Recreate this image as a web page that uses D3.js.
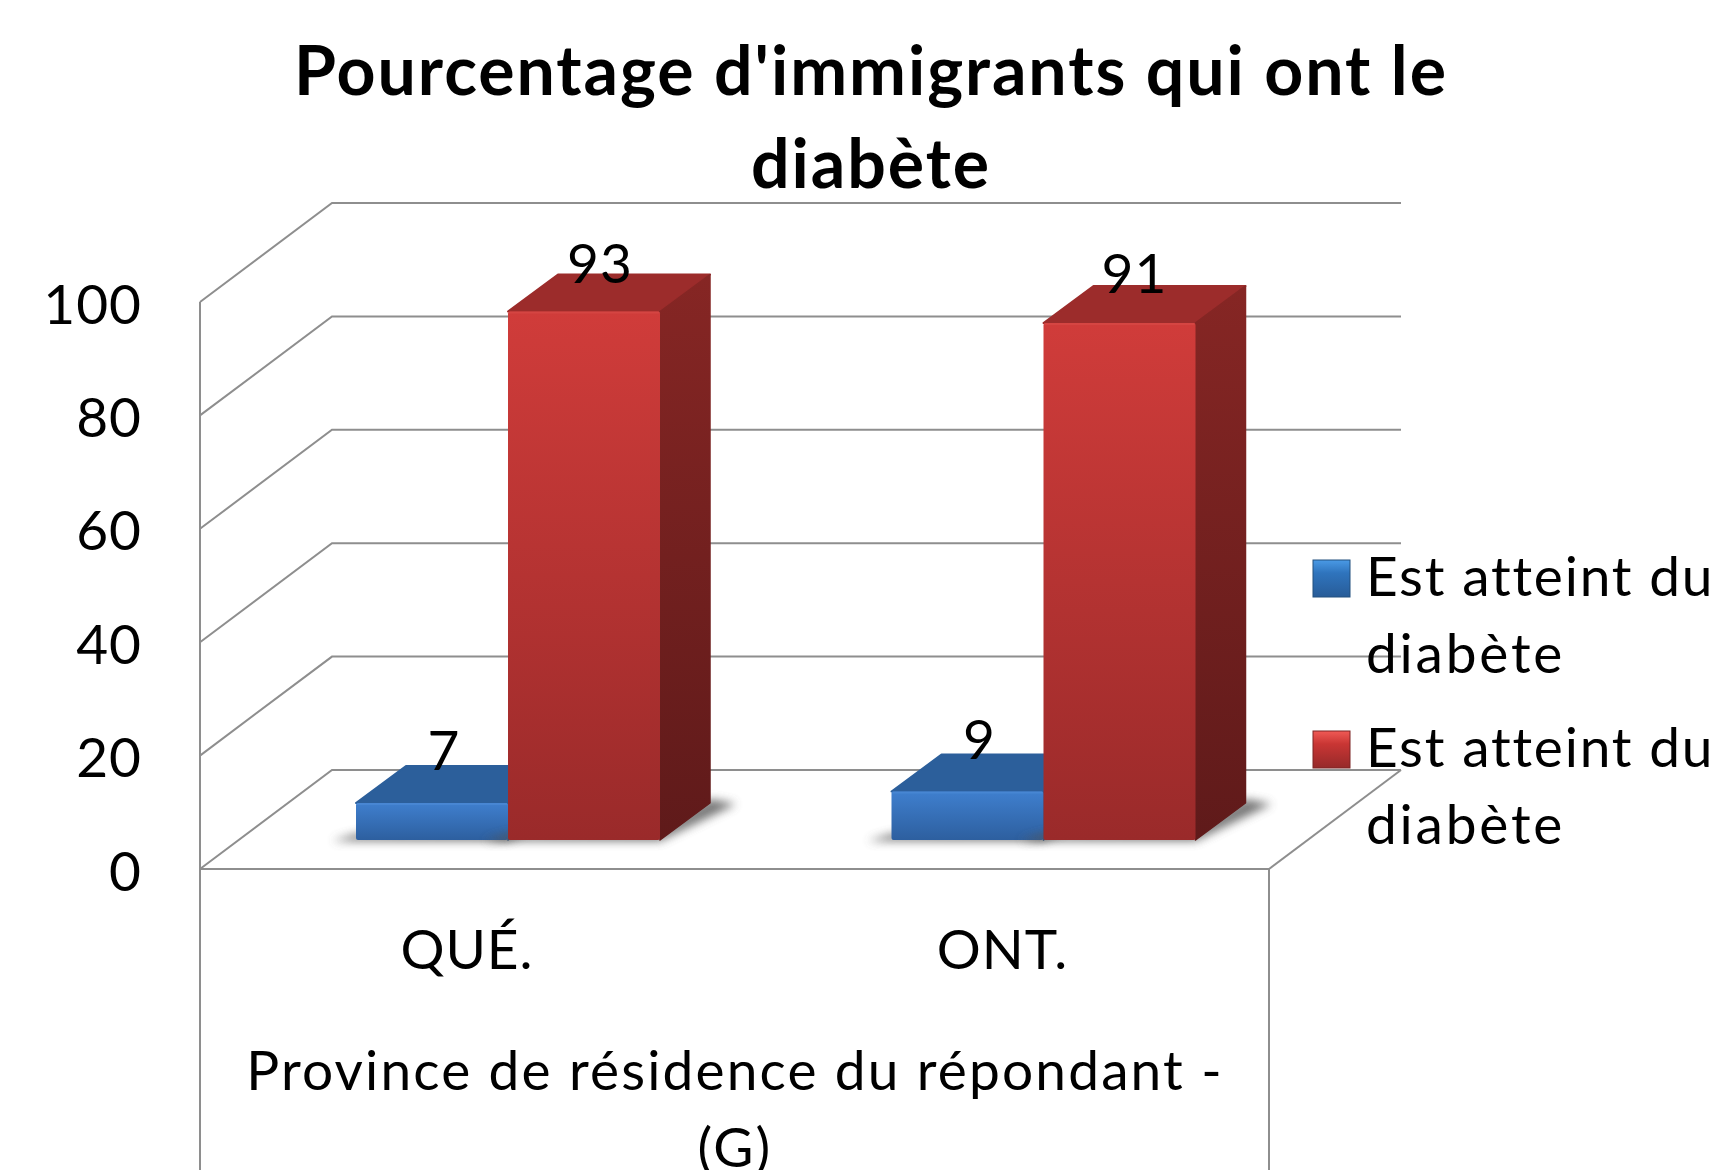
<!DOCTYPE html>
<html><head><meta charset="utf-8">
<script src="https://cdn.jsdelivr.net/npm/d3@7/dist/d3.min.js"></script>
<style>html,body{margin:0;padding:0;background:#fff;overflow:hidden}svg{display:block}text{font-family:Lato,Carlito,Calibri,sans-serif;fill:#000}</style>
</head><body><svg id="c" width="1720" height="1170"></svg>
<script>
const titleLines = ["Pourcentage d'immigrants qui ont le", "diabète"];
const categories = ["QUÉ.", "ONT."];
const seriesNames = ["Est atteint du diabète", "Est atteint du diabète"];
const seriesA = [7, 9];
const seriesB = [93, 91];
const yTicks = [0, 20, 40, 60, 80, 100];
const axisTitleLines = ["Province de résidence du répondant -", "(G)"];

const svg = d3.select("#c");
const W = 1170;
const y = d3.scaleLinear().domain([0, 100]).range([869, 302]);
const x = d3.scaleLinear().domain([0, 1]).range([200, 1269]);
const depth = {dx: 132, dy: -99};
const barDepth = {dx: 50, dy: -37};
const barBase = 840;
const barY = d3.scaleLinear().domain([0, 100]).range([843, 271.5]);
const band = d3.scaleBand().domain(categories).range([356, 1427]).paddingInner(0).paddingOuter(0);
const barW = 152;

const defs = svg.append("defs");
function grad(id, stops, x2 = 0, y2 = 1) {
  const g = defs.append("linearGradient").attr("id", id).attr("x1", 0).attr("y1", 0).attr("x2", x2).attr("y2", y2);
  stops.forEach(s => g.append("stop").attr("offset", s[0]).attr("stop-color", s[1]));
}
grad("rf", [[0, "#d03c3a"], [1, "#9a2a2a"]]);
grad("rs", [[0, "#862624"], [1, "#5f1a1a"]]);
grad("bf", [[0, "#3f7fce"], [1, "#2d5f9f"]]);
grad("bs", [[0, "#2c5f9c"], [1, "#244f84"]]);
grad("ls1", [[0, "#4a9ae6"], [.35, "#2f74bd"], [1, "#285c98"]]);
grad("ls2", [[0, "#f05a55"], [.35, "#c93634"], [1, "#962a2a"]]);
const blur = defs.append("filter").attr("id", "blur").attr("x", "-30%").attr("y", "-60%").attr("width", "160%").attr("height", "220%");
blur.append("feGaussianBlur").attr("stdDeviation", 5);

const grid = svg.append("g").attr("fill", "none").attr("stroke", "#8e8e8e").attr("stroke-width", 2);
const line = d3.line();
yTicks.forEach(t => {
  grid.append("path").attr("d", line([
    [x(0), y(t)], [x(0) + depth.dx, y(t) + depth.dy], [x(1) + depth.dx, y(t) + depth.dy]
  ]));
});
grid.append("path").attr("d", line([[x(0), y(100)], [x(0), W]]));
grid.append("path").attr("d", line([[x(0), y(0)], [x(1), y(0)], [x(1), W]]));
grid.append("path").attr("d", line([[x(1), y(0)], [x(1) + depth.dx, y(0) + depth.dy]]));

const colors = [
  {front: "url(#bf)", top: "#2c5f9b", side: "url(#bs)", hi: "#4c8ad6"},
  {front: "url(#rf)", top: "#9c2c2b", side: "url(#rs)", hi: "#d84a46"}
];
function bar(g, xl, v, c) {
  const yt = barY(v), h = barBase - yt, xr = xl + barW, d = barDepth;
  g.append("path").attr("d", line([
    [xl - 24, barBase + 1], [xr, barBase + 1], [xr + 26 + d.dx, barBase + d.dy + 1], [xr + d.dx, barBase + d.dy - 4], [xr, barBase - 10], [xl, barBase - 6]
  ]) + "Z").attr("fill", "#555").attr("opacity", .8).attr("filter", "url(#blur)");
  g.append("path").attr("d", line([[xl, yt], [xl + d.dx, yt + d.dy], [xr + d.dx, yt + d.dy], [xr, yt]]) + "Z")
    .attr("fill", c.top).attr("stroke", c.top).attr("stroke-width", 2).attr("stroke-linejoin", "round");
  g.append("path").attr("d", line([[xr, yt], [xr + d.dx, yt + d.dy], [xr + d.dx, barBase + d.dy], [xr, barBase]]) + "Z")
    .attr("fill", c.side).attr("stroke", c.side).attr("stroke-width", 1.5).attr("stroke-linejoin", "round");
  g.append("rect").attr("x", xl).attr("y", yt).attr("width", barW).attr("height", h).attr("rx", 2)
    .attr("fill", c.front);
  g.append("path").attr("d", line([[xl + 1, yt + 1], [xr - 1, yt + 1]])).attr("stroke", c.hi).attr("stroke-width", 2).attr("opacity", .7);
}
const bars = svg.append("g");
categories.forEach((cat, i) => bar(bars, band(cat), seriesA[i], colors[0]));
categories.forEach((cat, i) => bar(bars, band(cat) + barW, seriesB[i], colors[1]));

const fs = 55;
const labels = svg.append("g").attr("font-size", fs).attr("text-anchor", "middle");
const lab = (tx, ty, s) => labels.append("text").attr("x", tx).attr("y", ty).attr("letter-spacing", 1).text(s);
categories.forEach((cat, i) => {
  const xa = band(cat), xb = xa + barW;
  lab(xa + barW / 2 + 12, barY(seriesA[i]) - 33, seriesA[i]);
  lab(xb + barW / 2 + (i ? 15 : 16), barY(seriesB[i]) - 29 - (i ? 1 : 0), seriesB[i]);
  lab(xa + 111, 969, cat);
});

const yAxis = d3.axisLeft(y).tickValues(yTicks).tickSize(0).tickPadding(0);
const gy = svg.append("g").attr("transform", "translate(142,0)").call(yAxis);
gy.select(".domain").remove();
gy.selectAll("text").attr("font-size", fs).attr("dy", "21").attr("letter-spacing", 1).style("font-family", "Lato,Carlito,Calibri,sans-serif");

titleLines.forEach((s, i) => svg.append("text").attr("x", 871).attr("y", 95 + i * 93)
  .attr("text-anchor", "middle").attr("font-size", 68).attr("letter-spacing", 1.95).attr("font-weight", 700).text(s));
axisTitleLines.forEach((s, i) => svg.append("text").attr("x", 735).attr("y", 1090 + i * 77)
  .attr("text-anchor", "middle").attr("font-size", fs).attr("letter-spacing", 2.15).text(s));

const legendY = [560, 731];
seriesNames.forEach((s, i) => {
  const g = svg.append("g");
  const x0 = 1313, y0 = legendY[i], z = 37;
  g.append("rect").attr("x", x0).attr("y", y0).attr("width", z).attr("height", z).attr("fill", `url(#ls${i + 1})`)
    .attr("stroke", i ? "#7d2424" : "#23507f").attr("stroke-width", 1);
  const words = s.split(" ");
  [words.slice(0, 3).join(" "), words.slice(3).join(" ")].forEach((t, j) =>
    g.append("text").attr("x", 1366).attr("y", y0 + 36 + j * 77).attr("font-size", fs).attr("letter-spacing", j ? 2.8 : 1.8).text(t));
});
</script></body></html>
